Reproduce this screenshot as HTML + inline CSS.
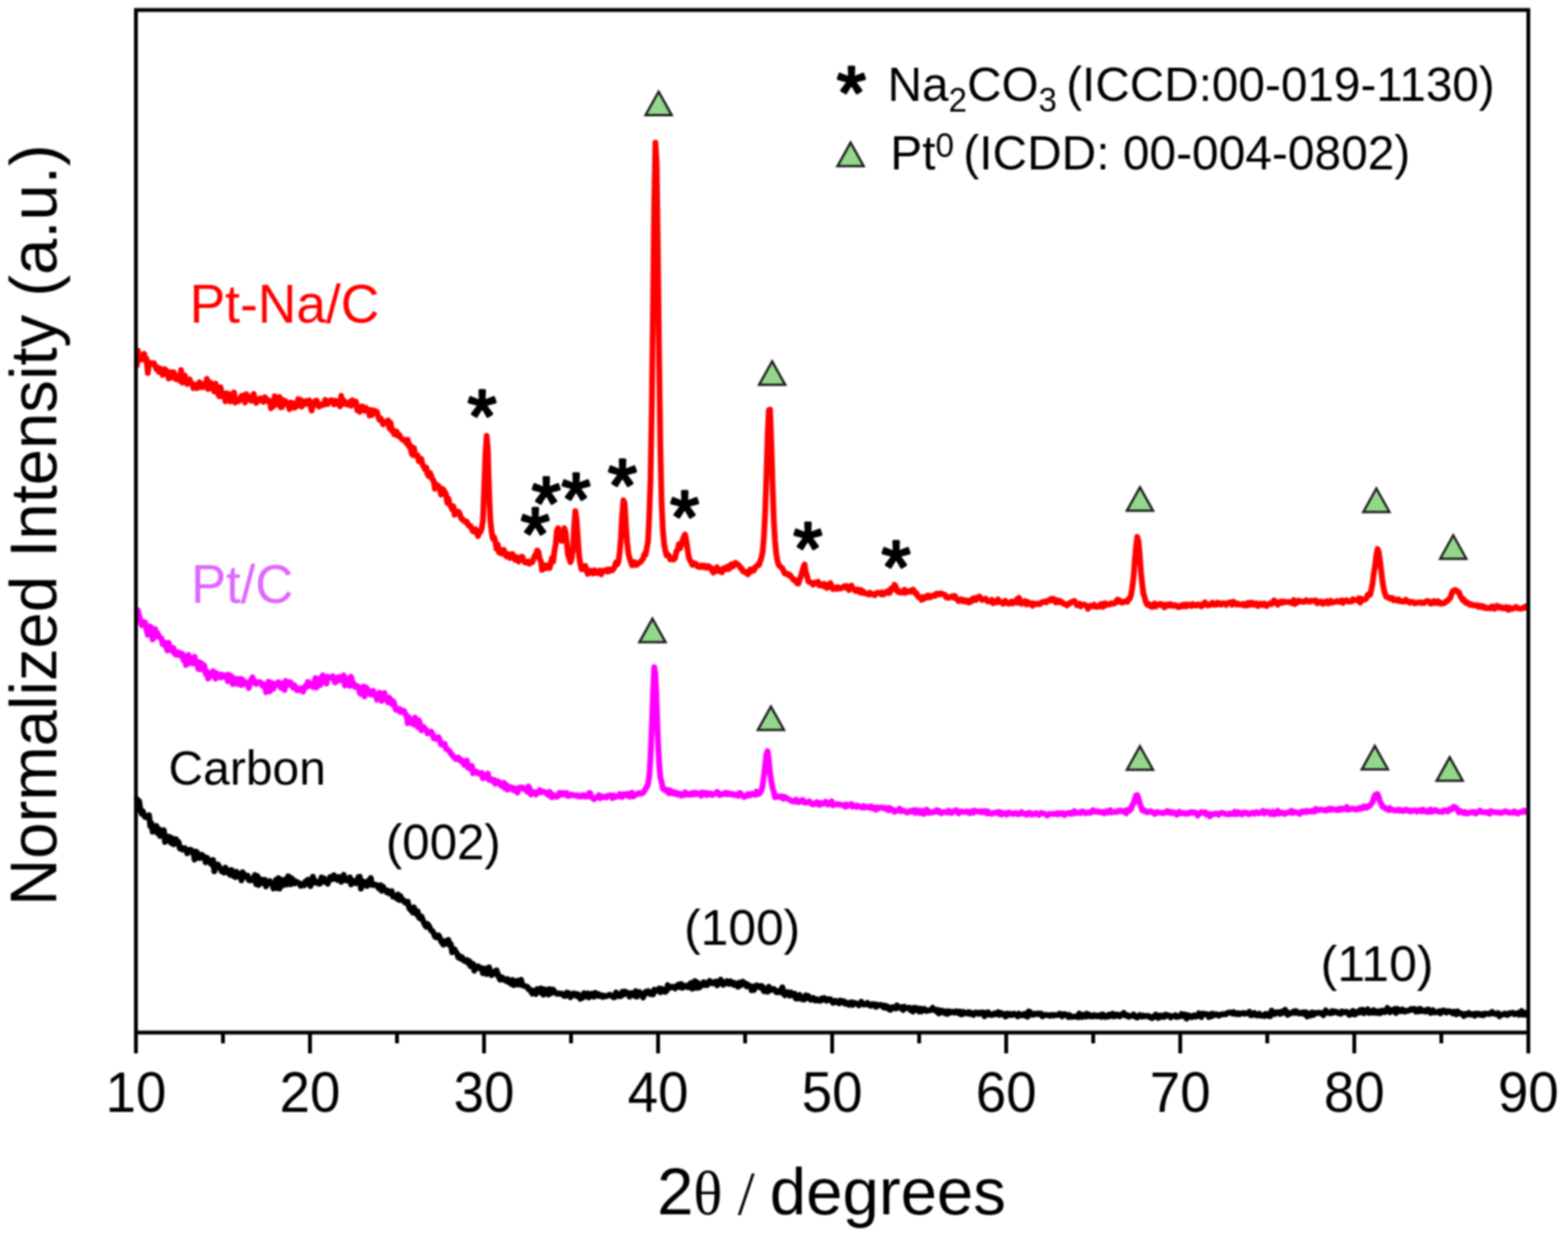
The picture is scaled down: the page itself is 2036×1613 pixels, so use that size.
<!DOCTYPE html>
<html><head><meta charset="utf-8"><style>
html,body{margin:0;padding:0;background:#fff;}
body{width:2036px;height:1613px;overflow:hidden;}
svg{display:block;filter:blur(0.9px);}
text{font-family:"Liberation Sans",Arial,sans-serif;}
.tk text{font-size:74px;fill:#000;}
.tri{fill:#92d78a;stroke:#1c1c1c;stroke-width:3;stroke-linejoin:miter;}
.ast{font-size:96.34360775891861px;fill:#000;stroke:#000;stroke-width:3.4px;stroke-linejoin:round;}
.crv{fill:none;stroke-linejoin:round;stroke-linecap:round;}
</style></head><body>
<svg width="2036" height="1613" viewBox="0 0 2036 1613">
<rect x="0" y="0" width="2036" height="1613" fill="#fff"/>
<path class="crv" stroke="#000" stroke-width="7.5" d="M177.5 1037.5 L179.1 1044.4 L180.7 1040.2 L182.3 1051.9 L183.9 1056.7 L185.5 1053.5 L187.1 1059.4 L188.7 1061.2 L190.3 1061.1 L191.9 1061.5 L193.5 1058.6 L195.1 1072.9 L196.7 1068.9 L198.3 1080.1 L199.9 1075.3 L201.5 1074.8 L203.1 1072.8 L204.7 1082.0 L206.3 1076.5 L207.9 1085.7 L209.5 1079.9 L211.1 1083.3 L212.7 1078.0 L214.3 1093.6 L215.9 1085.9 L217.5 1086.1 L219.1 1092.0 L220.7 1087.1 L222.3 1094.7 L223.9 1088.9 L225.5 1096.5 L227.1 1091.9 L228.7 1090.1 L230.3 1095.8 L231.9 1093.5 L233.5 1101.8 L235.1 1100.7 L236.7 1103.3 L238.3 1102.4 L239.9 1101.5 L241.5 1103.6 L243.1 1108.2 L244.7 1104.6 L246.3 1103.4 L247.9 1103.6 L249.5 1107.2 L251.1 1106.1 L252.7 1116.4 L254.3 1105.9 L255.9 1106.9 L257.5 1110.3 L259.1 1114.5 L260.7 1111.9 L262.3 1110.2 L263.9 1111.7 L265.5 1114.2 L267.1 1119.9 L268.7 1113.9 L270.3 1118.1 L271.9 1117.2 L273.5 1121.5 L275.1 1122.7 L276.7 1116.9 L278.3 1131.6 L279.9 1124.6 L281.5 1123.1 L283.1 1122.8 L284.7 1126.1 L286.3 1128.3 L287.9 1131.5 L289.5 1130.5 L291.1 1133.3 L292.7 1126.7 L294.3 1130.5 L295.9 1130.2 L297.5 1134.8 L299.1 1136.3 L300.7 1129.9 L302.3 1134.8 L303.9 1138.2 L305.5 1139.1 L307.1 1132.1 L308.7 1138.2 L310.3 1137.5 L311.9 1134.9 L313.5 1143.4 L315.1 1132.7 L316.7 1135.9 L318.3 1138.8 L319.9 1138.3 L321.5 1137.1 L323.1 1142.9 L324.7 1143.5 L326.3 1142.1 L327.9 1142.9 L329.5 1139.7 L331.1 1136.3 L332.7 1148.3 L334.3 1137.8 L335.9 1149.4 L337.5 1141.7 L339.1 1143.5 L340.7 1142.7 L342.3 1147.1 L343.9 1142.6 L345.5 1151.2 L347.1 1147.2 L348.7 1146.5 L350.3 1144.3 L351.9 1147.6 L353.5 1147.0 L355.1 1153.9 L356.7 1150.9 L358.3 1142.7 L359.9 1153.5 L361.5 1140.5 L363.1 1154.0 L364.7 1142.1 L366.3 1147.7 L367.9 1149.6 L369.5 1146.0 L371.1 1141.5 L372.7 1148.8 L374.3 1138.1 L375.9 1139.0 L377.5 1148.5 L379.1 1141.0 L380.7 1145.0 L382.3 1147.3 L383.9 1144.5 L385.5 1146.2 L387.1 1146.2 L388.7 1147.0 L390.3 1150.6 L391.9 1149.9 L393.5 1147.9 L395.1 1149.7 L396.7 1144.6 L398.3 1143.6 L399.9 1142.5 L401.5 1148.3 L403.1 1150.9 L404.7 1145.6 L406.3 1138.6 L407.9 1143.4 L409.5 1146.5 L411.1 1145.9 L412.7 1145.1 L414.3 1147.8 L415.9 1147.3 L417.5 1139.5 L419.1 1145.0 L420.7 1140.7 L422.3 1143.5 L423.9 1146.3 L425.5 1147.7 L427.1 1143.5 L428.7 1139.1 L430.3 1139.2 L431.9 1141.8 L433.5 1136.6 L435.1 1139.5 L436.7 1141.7 L438.3 1142.7 L439.9 1138.8 L441.5 1141.5 L443.1 1145.2 L444.7 1142.3 L446.3 1136.2 L447.9 1142.9 L449.5 1143.4 L451.1 1141.7 L452.7 1143.6 L454.3 1139.3 L455.9 1148.6 L457.5 1146.5 L459.1 1143.9 L460.7 1146.9 L462.3 1147.1 L463.9 1144.3 L465.5 1138.9 L467.1 1138.6 L468.7 1154.1 L470.3 1144.0 L471.9 1146.5 L473.5 1149.1 L475.1 1146.0 L476.7 1150.7 L478.3 1143.8 L479.9 1148.6 L481.5 1140.2 L483.1 1149.2 L484.7 1149.4 L486.3 1148.8 L487.9 1148.9 L489.5 1149.5 L491.1 1152.7 L492.7 1154.3 L494.3 1149.5 L495.9 1156.9 L497.5 1151.7 L499.1 1156.1 L500.7 1155.7 L502.3 1158.8 L503.9 1157.1 L505.5 1160.2 L507.1 1158.2 L508.7 1157.5 L510.3 1164.5 L511.9 1163.8 L513.5 1164.6 L515.1 1166.9 L516.7 1161.7 L518.3 1168.8 L519.9 1163.7 L521.5 1169.0 L523.1 1168.1 L524.7 1170.3 L526.3 1172.5 L527.9 1171.9 L529.5 1170.9 L531.1 1178.6 L532.7 1181.4 L534.3 1181.9 L535.9 1185.0 L537.5 1178.4 L539.1 1185.9 L540.7 1187.2 L542.3 1183.4 L543.9 1191.5 L545.5 1192.9 L547.1 1190.1 L548.7 1193.9 L550.3 1198.3 L551.9 1201.6 L553.5 1203.6 L555.1 1199.9 L556.7 1201.8 L558.3 1205.4 L559.9 1208.6 L561.5 1208.9 L563.1 1211.9 L564.7 1216.2 L566.3 1217.4 L567.9 1217.1 L569.5 1214.7 L571.1 1218.0 L572.7 1222.5 L574.3 1224.9 L575.9 1226.9 L577.5 1222.1 L579.1 1225.3 L580.7 1224.5 L582.3 1220.7 L583.9 1227.3 L585.5 1226.5 L587.1 1236.7 L588.7 1235.1 L590.3 1233.0 L591.9 1236.2 L593.5 1238.3 L595.1 1243.3 L596.7 1241.7 L598.3 1245.0 L599.9 1243.1 L601.5 1246.6 L603.1 1248.2 L604.7 1247.9 L606.3 1246.6 L607.9 1251.0 L609.5 1248.2 L611.1 1254.8 L612.7 1251.5 L614.3 1251.9 L615.9 1260.7 L617.5 1255.1 L619.1 1257.5 L620.7 1254.9 L622.3 1256.6 L623.9 1258.3 L625.5 1257.2 L627.1 1263.9 L628.7 1259.0 L630.3 1258.0 L631.9 1265.0 L633.5 1264.3 L635.1 1256.3 L636.7 1261.6 L638.3 1266.4 L639.9 1262.1 L641.5 1264.1 L643.1 1264.8 L644.7 1260.0 L646.3 1264.5 L647.9 1269.7 L649.5 1272.3 L651.1 1269.0 L652.7 1269.8 L654.3 1272.5 L655.9 1272.4 L657.5 1274.2 L659.1 1271.5 L660.7 1274.7 L662.3 1276.8 L663.9 1277.8 L665.5 1272.6 L667.1 1279.4 L668.7 1277.9 L670.3 1278.4 L671.9 1273.6 L673.5 1278.6 L675.1 1274.6 L676.7 1272.5 L678.3 1279.7 L679.9 1279.9 L681.5 1280.5 L683.1 1281.3 L684.7 1281.4 L686.3 1284.8 L687.9 1284.7 L689.5 1287.5 L691.1 1290.5 L692.7 1286.7 L694.3 1287.5 L695.9 1291.0 L697.5 1284.5 L699.1 1286.2 L700.7 1287.9 L702.3 1283.6 L703.9 1290.1 L705.5 1291.8 L707.1 1284.8 L708.7 1286.0 L710.3 1290.4 L711.9 1291.7 L713.5 1284.5 L715.1 1290.2 L716.7 1288.8 L718.3 1285.1 L719.9 1289.0 L721.5 1288.9 L723.1 1290.7 L724.7 1290.7 L726.3 1290.1 L727.9 1290.5 L729.5 1290.6 L731.1 1292.3 L732.7 1293.4 L734.3 1293.5 L735.9 1289.1 L737.5 1289.5 L739.1 1290.0 L740.7 1295.2 L742.3 1293.3 L743.9 1290.6 L745.5 1290.0 L747.1 1290.8 L748.7 1293.6 L750.3 1291.2 L751.9 1293.9 L753.5 1297.2 L755.1 1293.3 L756.7 1295.6 L758.3 1289.8 L759.9 1293.8 L761.5 1293.3 L763.1 1290.2 L764.7 1295.4 L766.3 1292.1 L767.9 1290.5 L769.5 1291.5 L771.1 1294.5 L772.7 1289.3 L774.3 1293.0 L775.9 1290.6 L777.5 1293.4 L779.1 1291.9 L780.7 1292.9 L782.3 1294.7 L783.9 1292.9 L785.5 1293.9 L787.1 1294.0 L788.7 1293.2 L790.3 1292.5 L791.9 1291.8 L793.5 1292.9 L795.1 1294.0 L796.7 1295.2 L798.3 1295.0 L799.9 1288.9 L801.5 1291.7 L803.1 1292.2 L804.7 1293.9 L806.3 1293.6 L807.9 1288.1 L809.5 1291.9 L811.1 1287.5 L812.7 1290.2 L814.3 1289.1 L815.9 1289.7 L817.5 1294.4 L819.1 1289.7 L820.7 1289.8 L822.3 1291.1 L823.9 1293.2 L825.5 1287.2 L827.1 1294.4 L828.7 1289.1 L830.3 1288.3 L831.9 1290.5 L833.5 1291.4 L835.1 1295.5 L836.7 1291.4 L838.3 1288.1 L839.9 1288.9 L841.5 1287.3 L843.1 1290.7 L844.7 1291.1 L846.3 1288.5 L847.9 1291.5 L849.5 1285.3 L851.1 1287.5 L852.7 1286.2 L854.3 1286.4 L855.9 1283.7 L857.5 1288.7 L859.1 1284.1 L860.7 1285.3 L862.3 1287.7 L863.9 1288.2 L865.5 1286.9 L867.1 1279.4 L868.7 1283.2 L870.3 1282.8 L871.9 1281.9 L873.5 1281.4 L875.1 1281.6 L876.7 1283.8 L878.3 1281.3 L879.9 1279.3 L881.5 1278.6 L883.1 1282.0 L884.7 1278.0 L886.3 1282.9 L887.9 1280.3 L889.5 1280.1 L891.1 1281.5 L892.7 1280.1 L894.3 1282.2 L895.9 1277.9 L897.5 1276.5 L899.1 1284.1 L900.7 1280.1 L902.3 1274.2 L903.9 1282.7 L905.5 1276.0 L907.1 1282.8 L908.7 1282.0 L910.3 1279.8 L911.9 1277.7 L913.5 1275.7 L915.1 1279.3 L916.7 1276.4 L918.3 1279.4 L919.9 1276.6 L921.5 1273.9 L923.1 1275.6 L924.7 1277.1 L926.3 1275.9 L927.9 1277.1 L929.5 1274.8 L931.1 1279.7 L932.7 1275.1 L934.3 1277.0 L935.9 1272.2 L937.5 1277.4 L939.1 1278.9 L940.7 1277.1 L942.3 1275.5 L943.9 1274.2 L945.5 1277.5 L947.1 1277.7 L948.7 1274.3 L950.3 1277.3 L951.9 1278.7 L953.5 1276.5 L955.1 1279.5 L956.7 1278.0 L958.3 1281.6 L959.9 1276.2 L961.5 1279.8 L963.1 1278.9 L964.7 1275.0 L966.3 1276.9 L967.9 1277.2 L969.5 1281.0 L971.1 1278.8 L972.7 1280.0 L974.3 1280.8 L975.9 1286.1 L977.5 1281.1 L979.1 1285.8 L980.7 1282.0 L982.3 1279.6 L983.9 1281.3 L985.5 1280.6 L987.1 1282.4 L988.7 1280.4 L990.3 1281.6 L991.9 1287.3 L993.5 1284.3 L995.1 1284.8 L996.7 1288.0 L998.3 1281.5 L999.9 1286.1 L1001.5 1284.3 L1003.1 1285.3 L1004.7 1284.3 L1006.3 1286.1 L1007.9 1288.5 L1009.5 1288.7 L1011.1 1287.2 L1012.7 1288.6 L1014.3 1285.1 L1015.9 1282.3 L1017.5 1290.3 L1019.1 1292.6 L1020.7 1290.1 L1022.3 1288.6 L1023.9 1290.3 L1025.5 1293.0 L1027.1 1289.0 L1028.7 1291.8 L1030.3 1293.2 L1031.9 1290.5 L1033.5 1296.8 L1035.1 1294.8 L1036.7 1296.8 L1038.3 1292.0 L1039.9 1294.8 L1041.5 1297.7 L1043.1 1296.1 L1044.7 1298.0 L1046.3 1292.7 L1047.9 1296.4 L1049.5 1293.3 L1051.1 1296.6 L1052.7 1298.4 L1054.3 1297.8 L1055.9 1295.9 L1057.5 1298.8 L1059.1 1299.4 L1060.7 1297.8 L1062.3 1299.3 L1063.9 1299.7 L1065.5 1299.7 L1067.1 1296.7 L1068.7 1298.2 L1070.3 1296.2 L1071.9 1297.3 L1073.5 1299.7 L1075.1 1297.8 L1076.7 1297.6 L1078.3 1297.7 L1079.9 1300.1 L1081.5 1302.4 L1083.1 1301.5 L1084.7 1299.6 L1086.3 1301.7 L1087.9 1302.1 L1089.5 1303.1 L1091.1 1299.4 L1092.7 1301.9 L1094.3 1300.2 L1095.9 1300.2 L1097.5 1303.7 L1099.1 1302.8 L1100.7 1302.3 L1102.3 1305.0 L1103.9 1303.3 L1105.5 1301.8 L1107.1 1305.2 L1108.7 1302.2 L1110.3 1302.4 L1111.9 1303.3 L1113.5 1303.8 L1115.1 1305.7 L1116.7 1303.5 L1118.3 1301.0 L1119.9 1303.2 L1121.5 1304.8 L1123.1 1304.1 L1124.7 1304.2 L1126.3 1302.4 L1127.9 1304.1 L1129.5 1305.9 L1131.1 1306.2 L1132.7 1304.0 L1134.3 1304.4 L1135.9 1304.2 L1137.5 1307.7 L1139.1 1304.9 L1140.7 1305.9 L1142.3 1305.1 L1143.9 1305.1 L1145.5 1306.5 L1147.1 1308.3 L1148.7 1305.9 L1150.3 1308.9 L1151.9 1306.9 L1153.5 1308.3 L1155.1 1311.4 L1156.7 1311.2 L1158.3 1308.1 L1159.9 1308.1 L1161.5 1308.0 L1163.1 1309.8 L1164.7 1305.7 L1166.3 1307.9 L1167.9 1309.0 L1169.5 1308.1 L1171.1 1307.8 L1172.7 1311.8 L1174.3 1307.3 L1175.9 1309.2 L1177.5 1309.1 L1179.1 1309.4 L1180.7 1308.6 L1182.3 1311.8 L1183.9 1310.5 L1185.5 1313.7 L1187.1 1308.7 L1188.7 1311.4 L1190.3 1309.2 L1191.9 1311.9 L1193.5 1313.6 L1195.1 1309.9 L1196.7 1313.5 L1198.3 1310.5 L1199.9 1310.0 L1201.5 1312.3 L1203.1 1313.0 L1204.7 1312.0 L1206.3 1312.3 L1207.9 1311.9 L1209.5 1311.3 L1211.1 1308.8 L1212.7 1311.8 L1214.3 1311.5 L1215.9 1313.6 L1217.5 1311.5 L1219.1 1316.2 L1220.7 1314.1 L1222.3 1312.5 L1223.9 1314.5 L1225.5 1313.2 L1227.1 1316.0 L1228.7 1313.6 L1230.3 1316.8 L1231.9 1313.1 L1233.5 1315.2 L1235.1 1315.0 L1236.7 1313.8 L1238.3 1314.7 L1239.9 1315.2 L1241.5 1313.3 L1243.1 1313.8 L1244.7 1315.8 L1246.3 1313.7 L1247.9 1317.4 L1249.5 1317.3 L1251.1 1314.1 L1252.7 1315.5 L1254.3 1315.9 L1255.9 1316.3 L1257.5 1314.5 L1259.1 1316.7 L1260.7 1315.0 L1262.3 1315.8 L1263.9 1318.1 L1265.5 1316.1 L1267.1 1314.8 L1268.7 1315.4 L1270.3 1316.8 L1271.9 1315.2 L1273.5 1314.9 L1275.1 1316.6 L1276.7 1315.0 L1278.3 1319.8 L1279.9 1315.7 L1281.5 1317.8 L1283.1 1314.7 L1284.7 1316.5 L1286.3 1318.3 L1287.9 1317.8 L1289.5 1318.0 L1291.1 1316.1 L1292.7 1317.1 L1294.3 1316.4 L1295.9 1314.5 L1297.5 1318.2 L1299.1 1315.3 L1300.7 1315.9 L1302.3 1317.5 L1303.9 1317.2 L1305.5 1320.2 L1307.1 1316.3 L1308.7 1318.7 L1310.3 1316.5 L1311.9 1316.8 L1313.5 1318.5 L1315.1 1318.0 L1316.7 1316.4 L1318.3 1317.1 L1319.9 1317.7 L1321.5 1320.0 L1323.1 1316.5 L1324.7 1318.1 L1326.3 1318.7 L1327.9 1318.0 L1329.5 1317.0 L1331.1 1319.0 L1332.7 1316.2 L1334.3 1320.4 L1335.9 1313.5 L1337.5 1314.3 L1339.1 1317.4 L1340.7 1318.0 L1342.3 1317.7 L1343.9 1316.2 L1345.5 1316.9 L1347.1 1317.3 L1348.7 1316.1 L1350.3 1317.1 L1351.9 1316.4 L1353.5 1319.8 L1355.1 1319.0 L1356.7 1317.9 L1358.3 1318.2 L1359.9 1318.2 L1361.5 1318.5 L1363.1 1319.3 L1364.7 1318.3 L1366.3 1318.0 L1367.9 1319.1 L1369.5 1318.2 L1371.1 1318.3 L1372.7 1318.3 L1374.3 1317.9 L1375.9 1316.5 L1377.5 1317.8 L1379.1 1319.9 L1380.7 1316.9 L1382.3 1317.0 L1383.9 1317.7 L1385.5 1317.9 L1387.1 1320.7 L1388.7 1318.3 L1390.3 1320.7 L1391.9 1320.3 L1393.5 1320.4 L1395.1 1320.3 L1396.7 1320.0 L1398.3 1320.2 L1399.9 1321.1 L1401.5 1316.2 L1403.1 1319.7 L1404.7 1320.7 L1406.3 1318.0 L1407.9 1318.9 L1409.5 1320.3 L1411.1 1316.5 L1412.7 1319.6 L1414.3 1317.7 L1415.9 1319.8 L1417.5 1320.1 L1419.1 1320.0 L1420.7 1318.2 L1422.3 1319.6 L1423.9 1318.7 L1425.5 1320.0 L1427.1 1318.9 L1428.7 1318.2 L1430.3 1320.7 L1431.9 1317.4 L1433.5 1318.4 L1435.1 1320.7 L1436.7 1319.6 L1438.3 1320.3 L1439.9 1317.6 L1441.5 1319.4 L1443.1 1317.8 L1444.7 1316.5 L1446.3 1320.0 L1447.9 1317.6 L1449.5 1319.2 L1451.1 1317.7 L1452.7 1319.8 L1454.3 1319.9 L1455.9 1317.6 L1457.5 1317.7 L1459.1 1315.4 L1460.7 1318.6 L1462.3 1319.0 L1463.9 1318.4 L1465.5 1320.5 L1467.1 1319.5 L1468.7 1319.6 L1470.3 1318.8 L1471.9 1317.5 L1473.5 1319.8 L1475.1 1321.0 L1476.7 1321.6 L1478.3 1320.1 L1479.9 1318.1 L1481.5 1319.6 L1483.1 1320.4 L1484.7 1318.8 L1486.3 1319.9 L1487.9 1319.6 L1489.5 1319.5 L1491.1 1319.2 L1492.7 1321.1 L1494.3 1321.3 L1495.9 1322.3 L1497.5 1320.0 L1499.1 1320.4 L1500.7 1317.7 L1502.3 1320.5 L1503.9 1322.0 L1505.5 1318.8 L1507.1 1320.6 L1508.7 1319.0 L1510.3 1320.5 L1511.9 1320.7 L1513.5 1317.6 L1515.1 1318.3 L1516.7 1318.5 L1518.3 1319.2 L1519.9 1321.4 L1521.5 1319.6 L1523.1 1319.7 L1524.7 1319.7 L1526.3 1318.4 L1527.9 1320.8 L1529.5 1319.9 L1531.1 1320.2 L1532.7 1319.3 L1534.3 1316.8 L1535.9 1319.5 L1537.5 1317.8 L1539.1 1317.5 L1540.7 1322.8 L1542.3 1320.4 L1543.9 1318.7 L1545.5 1320.6 L1547.1 1321.0 L1548.7 1319.7 L1550.3 1318.7 L1551.9 1320.5 L1553.5 1319.9 L1555.1 1319.5 L1556.7 1315.9 L1558.3 1318.7 L1559.9 1320.9 L1561.5 1316.3 L1563.1 1317.2 L1564.7 1316.7 L1566.3 1317.2 L1567.9 1317.7 L1569.5 1320.8 L1571.1 1317.4 L1572.7 1320.1 L1574.3 1316.4 L1575.9 1318.6 L1577.5 1317.5 L1579.1 1316.9 L1580.7 1317.8 L1582.3 1319.2 L1583.9 1317.7 L1585.5 1318.0 L1587.1 1316.9 L1588.7 1317.3 L1590.3 1316.9 L1591.9 1317.3 L1593.5 1315.8 L1595.1 1314.9 L1596.7 1315.0 L1598.3 1314.9 L1599.9 1316.3 L1601.5 1314.4 L1603.1 1316.6 L1604.7 1315.9 L1606.3 1317.3 L1607.9 1315.9 L1609.5 1317.2 L1611.1 1316.3 L1612.7 1316.1 L1614.3 1315.5 L1615.9 1316.7 L1617.5 1316.3 L1619.1 1315.5 L1620.7 1315.8 L1622.3 1313.9 L1623.9 1318.4 L1625.5 1318.5 L1627.1 1316.3 L1628.7 1315.4 L1630.3 1318.2 L1631.9 1318.9 L1633.5 1317.4 L1635.1 1316.4 L1636.7 1319.1 L1638.3 1318.5 L1639.9 1318.5 L1641.5 1319.6 L1643.1 1316.7 L1644.7 1316.8 L1646.3 1319.2 L1647.9 1317.5 L1649.5 1319.7 L1651.1 1312.5 L1652.7 1314.0 L1654.3 1317.0 L1655.9 1316.8 L1657.5 1314.5 L1659.1 1314.8 L1660.7 1314.8 L1662.3 1316.8 L1663.9 1313.8 L1665.5 1315.5 L1667.1 1314.5 L1668.7 1311.3 L1670.3 1315.8 L1671.9 1318.0 L1673.5 1315.2 L1675.1 1316.6 L1676.7 1315.7 L1678.3 1315.4 L1679.9 1313.5 L1681.5 1315.6 L1683.1 1313.1 L1684.7 1315.1 L1686.3 1316.2 L1687.9 1316.3 L1689.5 1315.0 L1691.1 1316.0 L1692.7 1314.8 L1694.3 1317.4 L1695.9 1314.8 L1697.5 1320.2 L1699.1 1317.6 L1700.7 1316.3 L1702.3 1318.9 L1703.9 1315.0 L1705.5 1318.0 L1707.1 1315.4 L1708.7 1316.3 L1710.3 1315.4 L1711.9 1315.1 L1713.5 1315.3 L1715.1 1316.3 L1716.7 1315.6 L1718.3 1318.5 L1719.9 1316.0 L1721.5 1312.2 L1723.1 1314.8 L1724.7 1315.3 L1726.3 1315.9 L1727.9 1316.1 L1729.5 1313.3 L1731.1 1315.1 L1732.7 1313.5 L1734.3 1314.6 L1735.9 1314.0 L1737.5 1316.1 L1739.1 1315.9 L1740.7 1316.7 L1742.3 1313.6 L1743.9 1314.1 L1745.5 1315.0 L1747.1 1314.2 L1748.7 1314.1 L1750.3 1315.7 L1751.9 1318.0 L1753.5 1315.3 L1755.1 1317.0 L1756.7 1312.8 L1758.3 1317.4 L1759.9 1317.5 L1761.5 1314.6 L1763.1 1313.6 L1764.7 1315.0 L1766.3 1311.7 L1767.9 1314.3 L1769.5 1311.4 L1771.1 1315.9 L1772.7 1313.7 L1774.3 1312.7 L1775.9 1310.8 L1777.5 1315.7 L1779.1 1313.8 L1780.7 1313.0 L1782.3 1315.4 L1783.9 1311.9 L1785.5 1315.2 L1787.1 1315.6 L1788.7 1313.4 L1790.3 1315.4 L1791.9 1316.0 L1793.5 1312.6 L1795.1 1312.6 L1796.7 1314.6 L1798.3 1314.5 L1799.9 1312.3 L1801.5 1309.0 L1803.1 1311.1 L1804.7 1314.7 L1806.3 1312.3 L1807.9 1311.6 L1809.5 1313.3 L1811.1 1310.3 L1812.7 1315.6 L1814.3 1310.0 L1815.9 1312.3 L1817.5 1313.1 L1819.1 1313.4 L1820.7 1311.0 L1822.3 1312.0 L1823.9 1313.8 L1825.5 1312.5 L1827.1 1313.1 L1828.7 1312.3 L1830.3 1312.3 L1831.9 1310.7 L1833.5 1310.2 L1835.1 1311.4 L1836.7 1310.3 L1838.3 1313.8 L1839.9 1312.9 L1841.5 1313.7 L1843.1 1310.1 L1844.7 1310.4 L1846.3 1313.1 L1847.9 1312.6 L1849.5 1312.7 L1851.1 1313.8 L1852.7 1311.2 L1854.3 1311.0 L1855.9 1311.6 L1857.5 1315.6 L1859.1 1312.9 L1860.7 1312.0 L1862.3 1315.0 L1863.9 1314.4 L1865.5 1314.5 L1867.1 1314.3 L1868.7 1313.3 L1870.3 1316.0 L1871.9 1314.9 L1873.5 1312.3 L1875.1 1312.4 L1876.7 1313.1 L1878.3 1315.1 L1879.9 1313.2 L1881.5 1313.7 L1883.1 1313.5 L1884.7 1314.4 L1886.3 1316.1 L1887.9 1314.0 L1889.5 1314.9 L1891.1 1317.4 L1892.7 1313.4 L1894.3 1316.1 L1895.9 1316.2 L1897.5 1316.1 L1899.1 1317.7 L1900.7 1319.4 L1902.3 1316.7 L1903.9 1316.7 L1905.5 1317.7 L1907.1 1315.4 L1908.7 1316.7 L1910.3 1317.7 L1911.9 1317.8 L1913.5 1316.7 L1915.1 1319.2 L1916.7 1316.3 L1918.3 1316.8 L1919.9 1316.3 L1921.5 1317.9 L1923.1 1318.3 L1924.7 1316.9 L1926.3 1318.4 L1927.9 1316.2 L1929.5 1316.7 L1931.1 1316.8 L1932.7 1316.5 L1934.3 1316.9 L1935.9 1315.4 L1937.5 1314.2 L1939.1 1316.3 L1940.7 1316.7 L1942.3 1317.0 L1943.9 1316.0 L1945.5 1315.7 L1947.1 1320.0 L1948.7 1318.3 L1950.3 1317.7 L1951.9 1317.4 L1953.5 1316.2 L1955.1 1316.7 L1956.7 1318.2 L1958.3 1317.9 L1959.9 1315.7 L1961.5 1315.7 L1963.1 1315.5 L1964.7 1315.2 L1966.3 1317.3 L1967.9 1316.9 L1969.5 1316.5 L1971.1 1315.4 L1972.7 1317.8 L1974.3 1316.2 L1975.9 1312.9 L1977.5 1317.9 L1979.1 1316.6 L1980.7 1315.5 L1982.3 1318.1"/>
<path class="crv" stroke="#ff00ff" stroke-width="7.5" d="M177.5 793.0 L179.1 792.7 L180.7 800.4 L182.3 806.0 L183.9 811.8 L185.5 808.9 L187.1 807.8 L188.7 808.9 L190.3 818.5 L191.9 824.4 L193.5 819.3 L195.1 813.6 L196.7 816.5 L198.3 830.5 L199.9 825.1 L201.5 817.0 L203.1 826.3 L204.7 822.3 L206.3 826.2 L207.9 828.3 L209.5 828.8 L211.1 836.6 L212.7 835.4 L214.3 834.7 L215.9 841.2 L217.5 844.9 L219.1 834.7 L220.7 842.7 L222.3 840.7 L223.9 845.7 L225.5 841.8 L227.1 849.2 L228.7 850.4 L230.3 849.9 L231.9 847.3 L233.5 851.3 L235.1 849.1 L236.7 849.1 L238.3 857.4 L239.9 852.3 L241.5 863.6 L243.1 862.2 L244.7 850.5 L246.3 861.3 L247.9 855.7 L249.5 861.3 L251.1 861.6 L252.7 852.9 L254.3 861.5 L255.9 862.2 L257.5 868.5 L259.1 859.9 L260.7 869.4 L262.3 862.0 L263.9 866.2 L265.5 864.6 L267.1 875.3 L268.7 872.1 L270.3 881.3 L271.9 874.5 L273.5 876.3 L275.1 877.2 L276.7 871.7 L278.3 874.8 L279.9 881.5 L281.5 874.4 L283.1 877.3 L284.7 876.7 L286.3 879.8 L287.9 876.0 L289.5 877.3 L291.1 879.5 L292.7 879.6 L294.3 876.3 L295.9 884.7 L297.5 876.4 L299.1 877.8 L300.7 878.3 L302.3 888.5 L303.9 883.6 L305.5 881.6 L307.1 881.4 L308.7 888.3 L310.3 882.3 L311.9 881.6 L313.5 889.8 L315.1 882.6 L316.7 886.6 L318.3 888.1 L319.9 886.4 L321.5 888.0 L323.1 893.5 L324.7 885.6 L326.3 882.3 L327.9 879.7 L329.5 886.3 L331.1 885.7 L332.7 888.4 L334.3 885.8 L335.9 886.2 L337.5 885.8 L339.1 887.2 L340.7 890.5 L342.3 888.9 L343.9 891.3 L345.5 898.9 L347.1 893.6 L348.7 885.2 L350.3 898.1 L351.9 892.4 L353.5 887.2 L355.1 894.4 L356.7 890.7 L358.3 888.1 L359.9 887.7 L361.5 886.0 L363.1 889.7 L364.7 893.1 L366.3 887.3 L367.9 890.4 L369.5 896.2 L371.1 884.4 L372.7 890.3 L374.3 888.4 L375.9 885.8 L377.5 886.3 L379.1 890.7 L380.7 893.1 L382.3 890.0 L383.9 893.0 L385.5 896.3 L387.1 894.6 L388.7 896.3 L390.3 894.3 L391.9 893.8 L393.5 898.3 L395.1 893.2 L396.7 890.8 L398.3 892.3 L399.9 885.6 L401.5 887.1 L403.1 890.7 L404.7 889.4 L406.3 892.2 L407.9 886.2 L409.5 880.6 L411.1 892.9 L412.7 889.4 L414.3 881.2 L415.9 889.7 L417.5 884.3 L419.1 877.0 L420.7 881.5 L422.3 880.7 L423.9 887.8 L425.5 878.8 L427.1 880.5 L428.7 880.3 L430.3 880.0 L431.9 878.3 L433.5 882.8 L435.1 886.3 L436.7 885.0 L438.3 879.8 L439.9 879.1 L441.5 883.6 L443.1 880.5 L444.7 880.4 L446.3 877.1 L447.9 890.4 L449.5 887.3 L451.1 881.3 L452.7 888.6 L454.3 890.8 L455.9 878.7 L457.5 886.0 L459.1 887.5 L460.7 892.1 L462.3 890.5 L463.9 891.1 L465.5 892.6 L467.1 899.8 L468.7 901.3 L470.3 892.6 L471.9 891.7 L473.5 904.5 L475.1 892.5 L476.7 894.5 L478.3 897.2 L479.9 899.4 L481.5 902.0 L483.1 900.6 L484.7 897.2 L486.3 902.7 L487.9 902.6 L489.5 908.8 L491.1 903.3 L492.7 899.6 L494.3 901.3 L495.9 910.3 L497.5 904.4 L499.1 899.8 L500.7 905.4 L502.3 907.8 L503.9 912.1 L505.5 906.0 L507.1 912.6 L508.7 914.2 L510.3 910.5 L511.9 913.4 L513.5 921.0 L515.1 922.1 L516.7 920.8 L518.3 920.6 L519.9 924.7 L521.5 922.2 L523.1 924.0 L524.7 923.3 L526.3 927.6 L527.9 928.9 L529.5 939.4 L531.1 931.5 L532.7 937.4 L534.3 938.9 L535.9 935.5 L537.5 940.9 L539.1 931.9 L540.7 940.3 L542.3 944.1 L543.9 935.5 L545.5 940.5 L547.1 948.6 L548.7 945.8 L550.3 944.3 L551.9 947.5 L553.5 947.8 L555.1 952.4 L556.7 952.3 L558.3 950.7 L559.9 950.1 L561.5 953.3 L563.1 958.8 L564.7 957.3 L566.3 959.7 L567.9 959.0 L569.5 957.5 L571.1 961.0 L572.7 967.0 L574.3 967.3 L575.9 966.2 L577.5 966.0 L579.1 972.7 L580.7 972.9 L582.3 974.4 L583.9 975.8 L585.5 979.0 L587.1 980.0 L588.7 982.8 L590.3 983.7 L591.9 986.0 L593.5 985.7 L595.1 983.7 L596.7 985.8 L598.3 988.5 L599.9 987.4 L601.5 990.9 L603.1 993.6 L604.7 989.4 L606.3 987.9 L607.9 997.2 L609.5 995.4 L611.1 998.7 L612.7 994.7 L614.3 1004.3 L615.9 1002.9 L617.5 1001.8 L619.1 1002.3 L620.7 1004.5 L622.3 1004.7 L623.9 1005.3 L625.5 1003.8 L627.1 1010.8 L628.7 1008.1 L630.3 1009.2 L631.9 1010.0 L633.5 1004.5 L635.1 1012.8 L636.7 1011.5 L638.3 1012.6 L639.9 1014.6 L641.5 1012.6 L643.1 1017.8 L644.7 1014.5 L646.3 1014.7 L647.9 1015.4 L649.5 1018.6 L651.1 1020.8 L652.7 1018.2 L654.3 1016.8 L655.9 1023.8 L657.5 1019.3 L659.1 1025.5 L660.7 1023.0 L662.3 1021.9 L663.9 1022.3 L665.5 1025.2 L667.1 1026.4 L668.7 1023.8 L670.3 1026.6 L671.9 1029.5 L673.5 1024.4 L675.1 1022.5 L676.7 1023.1 L678.3 1022.8 L679.9 1024.9 L681.5 1025.0 L683.1 1023.9 L684.7 1028.3 L686.3 1021.3 L687.9 1024.3 L689.5 1031.9 L691.1 1029.8 L692.7 1028.7 L694.3 1028.8 L695.9 1031.9 L697.5 1029.4 L699.1 1028.7 L700.7 1026.1 L702.3 1029.0 L703.9 1027.9 L705.5 1028.2 L707.1 1028.5 L708.7 1030.2 L710.3 1029.9 L711.9 1032.7 L713.5 1028.3 L715.1 1031.0 L716.7 1035.5 L718.3 1032.0 L719.9 1034.5 L721.5 1034.5 L723.1 1034.9 L724.7 1033.8 L726.3 1029.6 L727.9 1031.9 L729.5 1031.9 L731.1 1029.7 L732.7 1032.0 L734.3 1030.6 L735.9 1029.9 L737.5 1033.8 L739.1 1033.4 L740.7 1032.2 L742.3 1031.8 L743.9 1032.6 L745.5 1032.9 L747.1 1032.9 L748.7 1033.6 L750.3 1032.8 L751.9 1034.4 L753.5 1034.6 L755.1 1034.4 L756.7 1032.5 L758.3 1032.7 L759.9 1034.7 L761.5 1033.7 L763.1 1034.1 L764.7 1029.9 L766.3 1029.8 L767.9 1035.5 L769.5 1035.8 L771.1 1037.9 L772.7 1036.8 L774.3 1035.9 L775.9 1035.5 L777.5 1032.8 L779.1 1036.7 L780.7 1033.9 L782.3 1035.6 L783.9 1034.9 L785.5 1034.9 L787.1 1035.8 L788.7 1033.4 L790.3 1033.5 L791.9 1032.7 L793.5 1033.3 L795.1 1036.5 L796.7 1033.0 L798.3 1035.3 L799.9 1034.5 L801.5 1034.2 L803.1 1034.2 L804.7 1031.2 L806.3 1033.3 L807.9 1035.2 L809.5 1031.5 L811.1 1032.5 L812.7 1031.4 L814.3 1032.9 L815.9 1030.6 L817.5 1034.7 L819.1 1031.4 L820.7 1029.4 L822.3 1034.4 L823.9 1032.9 L825.5 1032.0 L827.1 1031.8 L828.7 1030.1 L830.3 1030.0 L831.9 1030.9 L833.5 1030.5 L835.1 1029.6 L836.7 1027.2 L838.3 1024.4 L839.9 1021.8 L841.5 1018.3 L843.1 1007.4 L844.7 982.5 L846.3 945.6 L847.9 901.5 L849.5 866.4 L851.1 875.3 L852.7 915.1 L854.3 960.8 L855.9 991.6 L857.5 1010.0 L859.1 1015.7 L860.7 1024.3 L862.3 1025.1 L863.9 1026.8 L865.5 1025.4 L867.1 1027.8 L868.7 1030.4 L870.3 1026.5 L871.9 1029.6 L873.5 1030.5 L875.1 1028.6 L876.7 1031.1 L878.3 1029.6 L879.9 1032.0 L881.5 1031.1 L883.1 1030.8 L884.7 1033.4 L886.3 1031.8 L887.9 1032.6 L889.5 1029.0 L891.1 1029.8 L892.7 1032.1 L894.3 1032.2 L895.9 1030.9 L897.5 1032.2 L899.1 1029.6 L900.7 1031.4 L902.3 1029.5 L903.9 1031.6 L905.5 1030.3 L907.1 1030.0 L908.7 1031.0 L910.3 1033.4 L911.9 1029.2 L913.5 1029.7 L915.1 1031.9 L916.7 1029.7 L918.3 1032.7 L919.9 1030.4 L921.5 1030.2 L923.1 1030.6 L924.7 1032.6 L926.3 1031.2 L927.9 1031.1 L929.5 1030.8 L931.1 1028.4 L932.7 1029.4 L934.3 1032.7 L935.9 1031.8 L937.5 1031.4 L939.1 1031.6 L940.7 1030.0 L942.3 1031.3 L943.9 1029.7 L945.5 1031.6 L947.1 1030.3 L948.7 1031.0 L950.3 1032.0 L951.9 1031.0 L953.5 1032.4 L955.1 1032.3 L956.7 1032.2 L958.3 1033.6 L959.9 1030.0 L961.5 1030.0 L963.1 1033.1 L964.7 1033.6 L966.3 1035.1 L967.9 1033.4 L969.5 1033.5 L971.1 1031.2 L972.7 1033.3 L974.3 1033.1 L975.9 1030.8 L977.5 1030.9 L979.1 1031.8 L980.7 1032.2 L982.3 1027.9 L983.9 1031.5 L985.5 1031.1 L987.1 1029.1 L988.7 1026.5 L990.3 1020.2 L991.9 1007.2 L993.5 994.2 L995.1 979.6 L996.7 975.4 L998.3 986.9 L999.9 1004.2 L1001.5 1014.3 L1003.1 1023.2 L1004.7 1028.3 L1006.3 1035.4 L1007.9 1033.9 L1009.5 1034.9 L1011.1 1034.5 L1012.7 1034.8 L1014.3 1033.9 L1015.9 1036.9 L1017.5 1037.3 L1019.1 1034.9 L1020.7 1036.3 L1022.3 1036.9 L1023.9 1038.1 L1025.5 1038.7 L1027.1 1040.0 L1028.7 1040.6 L1030.3 1040.6 L1031.9 1041.2 L1033.5 1038.5 L1035.1 1039.6 L1036.7 1042.0 L1038.3 1041.2 L1039.9 1041.1 L1041.5 1038.9 L1043.1 1039.3 L1044.7 1042.6 L1046.3 1042.4 L1047.9 1041.9 L1049.5 1041.9 L1051.1 1040.6 L1052.7 1043.2 L1054.3 1044.1 L1055.9 1044.9 L1057.5 1043.1 L1059.1 1042.8 L1060.7 1041.8 L1062.3 1044.6 L1063.9 1045.3 L1065.5 1042.7 L1067.1 1043.9 L1068.7 1043.8 L1070.3 1043.2 L1071.9 1041.1 L1073.5 1043.7 L1075.1 1044.9 L1076.7 1042.7 L1078.3 1043.4 L1079.9 1040.8 L1081.5 1046.0 L1083.1 1045.2 L1084.7 1044.8 L1086.3 1044.5 L1087.9 1044.2 L1089.5 1045.0 L1091.1 1044.9 L1092.7 1045.1 L1094.3 1045.5 L1095.9 1045.9 L1097.5 1047.7 L1099.1 1044.6 L1100.7 1046.7 L1102.3 1045.9 L1103.9 1045.5 L1105.5 1044.3 L1107.1 1047.7 L1108.7 1046.1 L1110.3 1046.4 L1111.9 1047.8 L1113.5 1046.2 L1115.1 1047.5 L1116.7 1047.4 L1118.3 1048.5 L1119.9 1048.8 L1121.5 1046.8 L1123.1 1048.8 L1124.7 1047.9 L1126.3 1048.2 L1127.9 1048.0 L1129.5 1049.3 L1131.1 1047.3 L1132.7 1049.1 L1134.3 1050.3 L1135.9 1048.8 L1137.5 1051.5 L1139.1 1048.6 L1140.7 1049.7 L1142.3 1049.0 L1143.9 1049.0 L1145.5 1048.6 L1147.1 1049.3 L1148.7 1050.0 L1150.3 1049.3 L1151.9 1051.4 L1153.5 1052.3 L1155.1 1049.2 L1156.7 1052.0 L1158.3 1051.5 L1159.9 1051.8 L1161.5 1054.4 L1163.1 1053.3 L1164.7 1052.6 L1166.3 1052.6 L1167.9 1050.2 L1169.5 1053.6 L1171.1 1052.1 L1172.7 1053.2 L1174.3 1053.2 L1175.9 1054.1 L1177.5 1055.3 L1179.1 1054.2 L1180.7 1054.5 L1182.3 1052.9 L1183.9 1053.7 L1185.5 1054.1 L1187.1 1051.9 L1188.7 1055.8 L1190.3 1052.9 L1191.9 1052.4 L1193.5 1055.6 L1195.1 1056.1 L1196.7 1053.0 L1198.3 1053.1 L1199.9 1057.1 L1201.5 1053.8 L1203.1 1051.5 L1204.7 1053.0 L1206.3 1055.9 L1207.9 1054.5 L1209.5 1054.7 L1211.1 1055.2 L1212.7 1054.7 L1214.3 1053.6 L1215.9 1052.3 L1217.5 1054.6 L1219.1 1053.0 L1220.7 1054.2 L1222.3 1056.2 L1223.9 1055.0 L1225.5 1054.5 L1227.1 1054.5 L1228.7 1055.1 L1230.3 1055.3 L1231.9 1052.8 L1233.5 1054.4 L1235.1 1056.0 L1236.7 1055.0 L1238.3 1053.4 L1239.9 1053.6 L1241.5 1052.2 L1243.1 1053.7 L1244.7 1056.4 L1246.3 1054.6 L1247.9 1053.8 L1249.5 1054.1 L1251.1 1054.6 L1252.7 1054.6 L1254.3 1054.3 L1255.9 1053.7 L1257.5 1055.2 L1259.1 1056.1 L1260.7 1053.8 L1262.3 1053.7 L1263.9 1055.5 L1265.5 1052.6 L1267.1 1053.5 L1268.7 1053.7 L1270.3 1054.4 L1271.9 1054.0 L1273.5 1053.6 L1275.1 1055.1 L1276.7 1053.7 L1278.3 1053.4 L1279.9 1053.3 L1281.5 1056.5 L1283.1 1054.0 L1284.7 1056.4 L1286.3 1056.7 L1287.9 1056.9 L1289.5 1055.8 L1291.1 1055.4 L1292.7 1056.0 L1294.3 1055.2 L1295.9 1054.4 L1297.5 1057.1 L1299.1 1054.9 L1300.7 1057.9 L1302.3 1056.6 L1303.9 1055.7 L1305.5 1056.9 L1307.1 1057.9 L1308.7 1055.2 L1310.3 1055.7 L1311.9 1055.6 L1313.5 1056.9 L1315.1 1057.2 L1316.7 1056.7 L1318.3 1055.8 L1319.9 1055.9 L1321.5 1057.6 L1323.1 1057.4 L1324.7 1056.3 L1326.3 1054.7 L1327.9 1056.8 L1329.5 1056.5 L1331.1 1056.5 L1332.7 1058.2 L1334.3 1057.3 L1335.9 1055.4 L1337.5 1055.5 L1339.1 1058.1 L1340.7 1056.9 L1342.3 1057.7 L1343.9 1056.6 L1345.5 1055.7 L1347.1 1057.1 L1348.7 1058.5 L1350.3 1057.2 L1351.9 1055.6 L1353.5 1056.5 L1355.1 1056.4 L1356.7 1057.1 L1358.3 1058.1 L1359.9 1059.1 L1361.5 1057.3 L1363.1 1056.7 L1364.7 1057.3 L1366.3 1057.2 L1367.9 1056.8 L1369.5 1057.2 L1371.1 1057.2 L1372.7 1055.9 L1374.3 1057.6 L1375.9 1056.6 L1377.5 1055.8 L1379.1 1057.3 L1380.7 1056.2 L1382.3 1058.5 L1383.9 1057.1 L1385.5 1056.6 L1387.1 1055.6 L1388.7 1055.8 L1390.3 1057.0 L1391.9 1055.2 L1393.5 1056.6 L1395.1 1053.3 L1396.7 1055.6 L1398.3 1056.1 L1399.9 1055.5 L1401.5 1055.0 L1403.1 1056.0 L1404.7 1054.0 L1406.3 1053.8 L1407.9 1055.0 L1409.5 1056.2 L1411.1 1055.5 L1412.7 1054.9 L1414.3 1055.5 L1415.9 1055.7 L1417.5 1053.9 L1419.1 1052.2 L1420.7 1054.1 L1422.3 1053.5 L1423.9 1054.4 L1425.5 1053.6 L1427.1 1053.9 L1428.7 1055.2 L1430.3 1054.7 L1431.9 1054.5 L1433.5 1056.2 L1435.1 1053.8 L1436.7 1053.8 L1438.3 1055.4 L1439.9 1052.8 L1441.5 1052.2 L1443.1 1055.2 L1444.7 1054.2 L1446.3 1054.4 L1447.9 1054.4 L1449.5 1054.7 L1451.1 1053.3 L1452.7 1053.7 L1454.3 1052.5 L1455.9 1053.8 L1457.5 1053.9 L1459.1 1053.0 L1460.7 1054.0 L1462.3 1056.3 L1463.9 1051.7 L1465.5 1053.3 L1467.1 1052.5 L1468.7 1050.8 L1470.3 1045.7 L1471.9 1043.3 L1473.5 1037.7 L1475.1 1033.0 L1476.7 1032.6 L1478.3 1036.8 L1479.9 1042.7 L1481.5 1047.4 L1483.1 1052.3 L1484.7 1051.6 L1486.3 1053.8 L1487.9 1053.4 L1489.5 1055.0 L1491.1 1054.6 L1492.7 1054.1 L1494.3 1053.5 L1495.9 1054.3 L1497.5 1055.5 L1499.1 1057.0 L1500.7 1056.3 L1502.3 1054.3 L1503.9 1055.1 L1505.5 1055.6 L1507.1 1055.4 L1508.7 1055.5 L1510.3 1056.2 L1511.9 1055.6 L1513.5 1054.7 L1515.1 1053.5 L1516.7 1055.2 L1518.3 1053.9 L1519.9 1055.6 L1521.5 1056.2 L1523.1 1054.6 L1524.7 1055.9 L1526.3 1055.7 L1527.9 1058.0 L1529.5 1056.5 L1531.1 1054.1 L1532.7 1056.5 L1534.3 1056.5 L1535.9 1055.9 L1537.5 1055.8 L1539.1 1056.8 L1540.7 1056.9 L1542.3 1056.7 L1543.9 1055.2 L1545.5 1055.9 L1547.1 1054.6 L1548.7 1054.7 L1550.3 1055.7 L1551.9 1055.2 L1553.5 1056.0 L1555.1 1059.1 L1556.7 1057.1 L1558.3 1055.7 L1559.9 1054.5 L1561.5 1055.9 L1563.1 1055.4 L1564.7 1054.7 L1566.3 1057.8 L1567.9 1056.5 L1569.5 1057.5 L1571.1 1060.3 L1572.7 1057.3 L1574.3 1057.2 L1575.9 1057.5 L1577.5 1056.8 L1579.1 1056.2 L1580.7 1056.9 L1582.3 1058.3 L1583.9 1056.8 L1585.5 1055.6 L1587.1 1055.7 L1588.7 1055.9 L1590.3 1056.9 L1591.9 1057.3 L1593.5 1057.2 L1595.1 1057.8 L1596.7 1056.3 L1598.3 1057.2 L1599.9 1056.6 L1601.5 1057.0 L1603.1 1054.3 L1604.7 1057.5 L1606.3 1054.5 L1607.9 1054.9 L1609.5 1056.9 L1611.1 1055.6 L1612.7 1057.8 L1614.3 1056.1 L1615.9 1054.9 L1617.5 1056.1 L1619.1 1055.5 L1620.7 1057.5 L1622.3 1057.5 L1623.9 1056.6 L1625.5 1055.3 L1627.1 1055.8 L1628.7 1056.8 L1630.3 1054.8 L1631.9 1054.8 L1633.5 1056.4 L1635.1 1056.2 L1636.7 1055.1 L1638.3 1055.0 L1639.9 1053.2 L1641.5 1056.5 L1643.1 1055.2 L1644.7 1053.9 L1646.3 1054.2 L1647.9 1054.6 L1649.5 1057.3 L1651.1 1056.3 L1652.7 1054.3 L1654.3 1057.6 L1655.9 1057.1 L1657.5 1054.7 L1659.1 1053.0 L1660.7 1056.8 L1662.3 1055.2 L1663.9 1055.7 L1665.5 1055.3 L1667.1 1057.0 L1668.7 1057.0 L1670.3 1056.1 L1671.9 1054.9 L1673.5 1055.1 L1675.1 1055.3 L1676.7 1053.0 L1678.3 1055.9 L1679.9 1054.3 L1681.5 1054.9 L1683.1 1054.8 L1684.7 1055.7 L1686.3 1055.9 L1687.9 1057.0 L1689.5 1054.3 L1691.1 1053.6 L1692.7 1054.5 L1694.3 1053.5 L1695.9 1054.8 L1697.5 1052.8 L1699.1 1053.6 L1700.7 1054.1 L1702.3 1054.0 L1703.9 1052.9 L1705.5 1054.0 L1707.1 1053.7 L1708.7 1050.5 L1710.3 1052.5 L1711.9 1052.3 L1713.5 1051.7 L1715.1 1051.2 L1716.7 1051.8 L1718.3 1052.0 L1719.9 1051.8 L1721.5 1052.8 L1723.1 1052.3 L1724.7 1050.5 L1726.3 1050.3 L1727.9 1051.8 L1729.5 1050.2 L1731.1 1051.0 L1732.7 1051.3 L1734.3 1051.8 L1735.9 1051.3 L1737.5 1052.2 L1739.1 1050.2 L1740.7 1051.4 L1742.3 1050.0 L1743.9 1050.9 L1745.5 1050.8 L1747.1 1049.8 L1748.7 1048.1 L1750.3 1051.7 L1751.9 1051.1 L1753.5 1050.9 L1755.1 1050.0 L1756.7 1050.3 L1758.3 1051.1 L1759.9 1050.6 L1761.5 1051.6 L1763.1 1050.4 L1764.7 1049.3 L1766.3 1050.5 L1767.9 1049.0 L1769.5 1049.6 L1771.1 1047.2 L1772.7 1048.5 L1774.3 1049.1 L1775.9 1047.4 L1777.5 1047.2 L1779.1 1046.3 L1780.7 1043.4 L1782.3 1041.8 L1783.9 1035.9 L1785.5 1032.6 L1787.1 1031.4 L1788.7 1031.2 L1790.3 1035.2 L1791.9 1041.3 L1793.5 1043.8 L1795.1 1048.0 L1796.7 1048.1 L1798.3 1049.0 L1799.9 1050.8 L1801.5 1050.4 L1803.1 1052.0 L1804.7 1049.5 L1806.3 1051.3 L1807.9 1051.8 L1809.5 1051.9 L1811.1 1052.7 L1812.7 1052.7 L1814.3 1051.9 L1815.9 1051.4 L1817.5 1053.0 L1819.1 1052.1 L1820.7 1053.0 L1822.3 1053.5 L1823.9 1052.4 L1825.5 1051.4 L1827.1 1052.1 L1828.7 1053.3 L1830.3 1052.4 L1831.9 1053.9 L1833.5 1052.9 L1835.1 1053.0 L1836.7 1052.3 L1838.3 1052.9 L1839.9 1054.1 L1841.5 1052.7 L1843.1 1052.7 L1844.7 1052.2 L1846.3 1053.8 L1847.9 1051.5 L1849.5 1052.4 L1851.1 1054.0 L1852.7 1054.5 L1854.3 1052.9 L1855.9 1054.2 L1857.5 1051.2 L1859.1 1054.1 L1860.7 1053.7 L1862.3 1052.3 L1863.9 1051.8 L1865.5 1053.2 L1867.1 1054.0 L1868.7 1054.1 L1870.3 1053.9 L1871.9 1054.5 L1873.5 1054.4 L1875.1 1052.2 L1876.7 1053.1 L1878.3 1052.7 L1879.9 1053.8 L1881.5 1051.4 L1883.1 1051.8 L1884.7 1049.6 L1886.3 1050.6 L1887.9 1047.7 L1889.5 1048.4 L1891.1 1049.6 L1892.7 1051.5 L1894.3 1055.2 L1895.9 1053.3 L1897.5 1053.7 L1899.1 1054.9 L1900.7 1056.1 L1902.3 1054.6 L1903.9 1056.5 L1905.5 1056.5 L1907.1 1055.5 L1908.7 1055.4 L1910.3 1054.7 L1911.9 1055.1 L1913.5 1054.4 L1915.1 1056.3 L1916.7 1056.6 L1918.3 1054.5 L1919.9 1054.6 L1921.5 1052.6 L1923.1 1054.0 L1924.7 1054.8 L1926.3 1054.8 L1927.9 1054.7 L1929.5 1055.5 L1931.1 1054.9 L1932.7 1054.5 L1934.3 1056.7 L1935.9 1053.3 L1937.5 1054.2 L1939.1 1054.7 L1940.7 1054.8 L1942.3 1054.8 L1943.9 1055.3 L1945.5 1054.8 L1947.1 1055.3 L1948.7 1055.9 L1950.3 1055.1 L1951.9 1055.1 L1953.5 1053.9 L1955.1 1053.6 L1956.7 1054.3 L1958.3 1055.5 L1959.9 1054.9 L1961.5 1055.6 L1963.1 1055.5 L1964.7 1055.6 L1966.3 1053.7 L1967.9 1055.7 L1969.5 1055.2 L1971.1 1056.5 L1972.7 1055.0 L1974.3 1054.7 L1975.9 1054.3 L1977.5 1054.6 L1979.1 1052.8 L1980.7 1054.3 L1982.3 1054.6"/>
<path class="crv" stroke="#ff0000" stroke-width="7.5" d="M177.5 474.6 L179.1 455.4 L180.7 468.1 L182.3 464.2 L183.9 465.0 L185.5 466.5 L187.1 459.5 L188.7 467.6 L190.3 465.8 L191.9 484.4 L193.5 472.6 L195.1 471.4 L196.7 472.8 L198.3 472.2 L199.9 471.6 L201.5 475.2 L203.1 479.5 L204.7 477.2 L206.3 482.8 L207.9 478.5 L209.5 480.0 L211.1 486.9 L212.7 483.3 L214.3 479.5 L215.9 481.5 L217.5 485.1 L219.1 491.5 L220.7 483.2 L222.3 484.1 L223.9 490.1 L225.5 483.3 L227.1 486.7 L228.7 492.5 L230.3 492.2 L231.9 491.0 L233.5 494.1 L235.1 480.6 L236.7 497.0 L238.3 489.7 L239.9 487.6 L241.5 496.3 L243.1 498.7 L244.7 494.7 L246.3 492.8 L247.9 497.8 L249.5 498.0 L251.1 504.2 L252.7 501.9 L254.3 500.0 L255.9 504.0 L257.5 499.0 L259.1 496.4 L260.7 502.7 L262.3 503.0 L263.9 500.1 L265.5 498.2 L267.1 502.6 L268.7 492.0 L270.3 505.2 L271.9 504.9 L273.5 496.9 L275.1 504.2 L276.7 500.8 L278.3 508.4 L279.9 498.2 L281.5 503.8 L283.1 511.4 L284.7 514.6 L286.3 502.7 L287.9 510.6 L289.5 515.0 L291.1 512.0 L292.7 521.2 L294.3 510.6 L295.9 517.0 L297.5 511.7 L299.1 521.5 L300.7 516.0 L302.3 514.7 L303.9 509.5 L305.5 522.9 L307.1 519.3 L308.7 519.3 L310.3 520.9 L311.9 517.9 L313.5 514.2 L315.1 513.8 L316.7 514.0 L318.3 522.7 L319.9 511.9 L321.5 515.4 L323.1 516.7 L324.7 518.9 L326.3 520.5 L327.9 513.5 L329.5 511.8 L331.1 518.5 L332.7 523.3 L334.3 521.6 L335.9 519.5 L337.5 517.5 L339.1 519.8 L340.7 517.8 L342.3 521.9 L343.9 515.8 L345.5 519.5 L347.1 518.8 L348.7 521.6 L350.3 520.8 L351.9 530.2 L353.5 526.8 L355.1 527.4 L356.7 514.5 L358.3 521.6 L359.9 521.1 L361.5 525.9 L363.1 515.6 L364.7 529.0 L366.3 528.7 L367.9 519.7 L369.5 520.8 L371.1 521.2 L372.7 524.2 L374.3 526.3 L375.9 531.4 L377.5 522.8 L379.1 526.2 L380.7 523.7 L382.3 529.6 L383.9 525.6 L385.5 527.8 L387.1 518.4 L388.7 521.6 L390.3 519.3 L391.9 528.1 L393.5 524.9 L395.1 521.4 L396.7 521.0 L398.3 524.6 L399.9 520.5 L401.5 519.9 L403.1 525.6 L404.7 533.3 L406.3 523.6 L407.9 522.8 L409.5 520.6 L411.1 520.0 L412.7 526.9 L414.3 528.2 L415.9 525.1 L417.5 526.4 L419.1 525.6 L420.7 525.7 L422.3 519.4 L423.9 523.0 L425.5 524.7 L427.1 520.9 L428.7 521.6 L430.3 519.8 L431.9 521.2 L433.5 525.2 L435.1 520.4 L436.7 521.2 L438.3 524.6 L439.9 524.0 L441.5 527.8 L443.1 514.0 L444.7 524.8 L446.3 520.0 L447.9 522.3 L449.5 524.8 L451.1 525.6 L452.7 525.4 L454.3 522.0 L455.9 527.0 L457.5 519.8 L459.1 520.9 L460.7 525.4 L462.3 521.7 L463.9 532.6 L465.5 529.6 L467.1 535.0 L468.7 528.2 L470.3 527.7 L471.9 530.5 L473.5 533.3 L475.1 529.4 L476.7 533.7 L478.3 533.0 L479.9 539.6 L481.5 532.2 L483.1 539.0 L484.7 533.7 L486.3 533.2 L487.9 535.1 L489.5 534.8 L491.1 540.8 L492.7 545.2 L494.3 543.4 L495.9 546.3 L497.5 551.2 L499.1 547.8 L500.7 549.1 L502.3 549.0 L503.9 545.9 L505.5 556.0 L507.1 548.9 L508.7 559.1 L510.3 558.4 L511.9 564.1 L513.5 561.6 L515.1 560.5 L516.7 566.2 L518.3 564.6 L519.9 567.5 L521.5 569.9 L523.1 570.8 L524.7 572.2 L526.3 571.5 L527.9 575.6 L529.5 571.0 L531.1 579.9 L532.7 578.3 L534.3 588.4 L535.9 590.9 L537.5 581.8 L539.1 591.1 L540.7 592.4 L542.3 591.4 L543.9 599.1 L545.5 598.1 L547.1 596.0 L548.7 603.5 L550.3 606.2 L551.9 609.5 L553.5 607.2 L555.1 615.7 L556.7 618.4 L558.3 614.1 L559.9 617.9 L561.5 622.8 L563.1 624.0 L564.7 634.8 L566.3 632.6 L567.9 630.0 L569.5 631.2 L571.1 634.1 L572.7 642.4 L574.3 634.7 L575.9 636.2 L577.5 639.0 L579.1 641.2 L580.7 652.8 L582.3 647.6 L583.9 655.7 L585.5 657.7 L587.1 661.6 L588.7 657.4 L590.3 668.5 L591.9 664.0 L593.5 666.1 L595.1 664.4 L596.7 666.5 L598.3 671.9 L599.9 674.4 L601.5 674.8 L603.1 677.4 L604.7 677.7 L606.3 677.5 L607.9 682.0 L609.5 683.2 L611.1 683.0 L612.7 687.2 L614.3 690.1 L615.9 688.0 L617.5 687.3 L619.1 691.7 L620.7 696.2 L622.3 690.5 L623.9 690.7 L625.5 686.1 L627.1 675.6 L628.7 633.1 L630.3 592.1 L631.9 566.0 L633.5 584.5 L635.1 640.7 L636.7 675.3 L638.3 690.4 L639.9 699.4 L641.5 697.5 L643.1 703.2 L644.7 712.6 L646.3 707.0 L647.9 717.1 L649.5 713.7 L651.1 719.0 L652.7 718.4 L654.3 714.0 L655.9 720.0 L657.5 722.7 L659.1 719.4 L660.7 719.4 L662.3 724.6 L663.9 722.1 L665.5 719.5 L667.1 722.6 L668.7 727.0 L670.3 723.5 L671.9 727.5 L673.5 729.3 L675.1 725.6 L676.7 722.9 L678.3 723.0 L679.9 727.1 L681.5 730.3 L683.1 729.6 L684.7 731.1 L686.3 729.3 L687.9 732.0 L689.5 730.3 L691.1 730.3 L692.7 726.1 L694.3 721.8 L695.9 719.8 L697.5 714.8 L699.1 716.5 L700.7 725.7 L702.3 728.9 L703.9 740.2 L705.5 737.1 L707.1 734.1 L708.7 738.0 L710.3 736.8 L711.9 734.0 L713.5 737.9 L715.1 732.4 L716.7 724.7 L718.3 729.2 L719.9 716.0 L721.5 707.2 L723.1 689.4 L724.7 685.9 L726.3 700.5 L727.9 701.3 L729.5 702.5 L731.1 696.2 L732.7 686.0 L734.3 691.0 L735.9 705.5 L737.5 720.6 L739.1 724.7 L740.7 730.2 L742.3 725.3 L743.9 714.4 L745.5 683.9 L747.1 663.8 L748.7 675.4 L750.3 698.4 L751.9 721.6 L753.5 732.5 L755.1 739.1 L756.7 737.0 L758.3 739.4 L759.9 734.9 L761.5 739.3 L763.1 745.3 L764.7 741.1 L766.3 741.7 L767.9 741.1 L769.5 744.9 L771.1 743.8 L772.7 740.6 L774.3 744.4 L775.9 743.3 L777.5 744.2 L779.1 740.9 L780.7 745.9 L782.3 742.8 L783.9 741.5 L785.5 740.4 L787.1 740.5 L788.7 742.3 L790.3 739.3 L791.9 741.5 L793.5 739.7 L795.1 740.6 L796.7 738.6 L798.3 735.7 L799.9 730.4 L801.5 733.1 L803.1 729.3 L804.7 716.9 L806.3 697.5 L807.9 668.8 L809.5 649.8 L811.1 653.3 L812.7 681.7 L814.3 703.8 L815.9 718.6 L817.5 724.6 L819.1 730.0 L820.7 734.2 L822.3 732.4 L823.9 729.9 L825.5 734.0 L827.1 733.5 L828.7 731.9 L830.3 730.5 L831.9 730.0 L833.5 727.2 L835.1 725.6 L836.7 719.7 L838.3 720.4 L839.9 711.4 L841.5 702.6 L843.1 668.1 L844.7 621.5 L846.3 532.0 L847.9 402.2 L849.5 267.5 L851.1 185.2 L852.7 214.8 L854.3 331.8 L855.9 470.1 L857.5 582.6 L859.1 653.1 L860.7 688.2 L862.3 706.1 L863.9 715.0 L865.5 721.3 L867.1 720.2 L868.7 721.9 L870.3 726.4 L871.9 725.0 L873.5 726.4 L875.1 726.7 L876.7 724.4 L878.3 716.0 L879.9 714.1 L881.5 706.7 L883.1 712.2 L884.7 707.0 L886.3 701.5 L887.9 697.3 L889.5 694.1 L891.1 701.6 L892.7 713.5 L894.3 723.7 L895.9 727.6 L897.5 730.3 L899.1 733.7 L900.7 731.1 L902.3 732.0 L903.9 732.2 L905.5 735.7 L907.1 735.6 L908.7 736.5 L910.3 734.3 L911.9 734.3 L913.5 736.6 L915.1 734.6 L916.7 737.3 L918.3 737.4 L919.9 735.1 L921.5 736.6 L923.1 737.2 L924.7 741.4 L926.3 743.7 L927.9 739.4 L929.5 740.2 L931.1 736.6 L932.7 741.8 L934.3 741.9 L935.9 740.5 L937.5 743.2 L939.1 738.0 L940.7 739.6 L942.3 739.4 L943.9 736.1 L945.5 739.1 L947.1 738.6 L948.7 733.4 L950.3 732.6 L951.9 735.6 L953.5 733.7 L955.1 731.0 L956.7 732.0 L958.3 733.3 L959.9 734.6 L961.5 737.7 L963.1 738.2 L964.7 742.0 L966.3 742.6 L967.9 742.6 L969.5 744.5 L971.1 745.9 L972.7 743.8 L974.3 739.4 L975.9 741.9 L977.5 739.3 L979.1 740.7 L980.7 736.6 L982.3 735.7 L983.9 733.4 L985.5 733.7 L987.1 729.1 L988.7 724.3 L990.3 716.6 L991.9 697.6 L993.5 667.0 L995.1 620.2 L996.7 567.6 L998.3 532.7 L999.9 531.9 L1001.5 574.4 L1003.1 627.7 L1004.7 674.6 L1006.3 701.5 L1007.9 719.1 L1009.5 728.6 L1011.1 733.7 L1012.7 735.4 L1014.3 736.8 L1015.9 738.0 L1017.5 741.9 L1019.1 744.9 L1020.7 744.3 L1022.3 745.4 L1023.9 747.1 L1025.5 746.3 L1027.1 749.0 L1028.7 750.6 L1030.3 753.1 L1031.9 754.1 L1033.5 753.5 L1035.1 757.7 L1036.7 757.9 L1038.3 752.6 L1039.9 749.2 L1041.5 742.3 L1043.1 737.2 L1044.7 733.1 L1046.3 743.6 L1047.9 747.2 L1049.5 755.1 L1051.1 755.9 L1052.7 756.5 L1054.3 757.4 L1055.9 759.3 L1057.5 756.6 L1059.1 757.5 L1060.7 757.4 L1062.3 755.5 L1063.9 760.3 L1065.5 759.3 L1067.1 758.8 L1068.7 761.1 L1070.3 758.3 L1071.9 760.2 L1073.5 763.6 L1075.1 763.0 L1076.7 758.5 L1078.3 757.3 L1079.9 761.4 L1081.5 765.0 L1083.1 763.0 L1084.7 763.7 L1086.3 764.9 L1087.9 762.4 L1089.5 763.8 L1091.1 764.4 L1092.7 763.6 L1094.3 763.2 L1095.9 761.4 L1097.5 762.8 L1099.1 761.1 L1100.7 763.8 L1102.3 766.3 L1103.9 761.9 L1105.5 760.4 L1107.1 763.7 L1108.7 765.6 L1110.3 767.3 L1111.9 767.7 L1113.5 765.4 L1115.1 765.8 L1116.7 769.4 L1118.3 766.3 L1119.9 770.0 L1121.5 768.5 L1123.1 770.5 L1124.7 770.9 L1126.3 771.4 L1127.9 772.0 L1129.5 769.8 L1131.1 771.8 L1132.7 771.3 L1134.3 771.7 L1135.9 773.0 L1137.5 770.7 L1139.1 769.9 L1140.7 769.8 L1142.3 770.3 L1143.9 771.8 L1145.5 769.3 L1147.1 772.1 L1148.7 770.7 L1150.3 769.8 L1151.9 768.1 L1153.5 770.2 L1155.1 770.1 L1156.7 764.6 L1158.3 765.9 L1159.9 763.1 L1161.5 759.5 L1163.1 761.4 L1164.7 767.6 L1166.3 768.9 L1167.9 767.6 L1169.5 769.8 L1171.1 769.6 L1172.7 769.4 L1174.3 765.8 L1175.9 770.0 L1177.5 767.6 L1179.1 768.4 L1180.7 767.6 L1182.3 768.7 L1183.9 766.7 L1185.5 765.7 L1187.1 767.5 L1188.7 770.9 L1190.3 770.5 L1191.9 775.1 L1193.5 775.6 L1195.1 776.4 L1196.7 779.1 L1198.3 775.3 L1199.9 777.7 L1201.5 775.1 L1203.1 776.1 L1204.7 773.2 L1206.3 773.4 L1207.9 775.9 L1209.5 774.3 L1211.1 773.8 L1212.7 772.8 L1214.3 773.9 L1215.9 770.9 L1217.5 771.0 L1219.1 772.1 L1220.7 770.8 L1222.3 770.7 L1223.9 771.7 L1225.5 772.2 L1227.1 772.7 L1228.7 776.0 L1230.3 775.6 L1231.9 776.5 L1233.5 775.2 L1235.1 775.0 L1236.7 774.1 L1238.3 776.1 L1239.9 774.0 L1241.5 776.6 L1243.1 779.0 L1244.7 780.7 L1246.3 780.2 L1247.9 778.1 L1249.5 780.6 L1251.1 779.2 L1252.7 781.2 L1254.3 779.5 L1255.9 780.5 L1257.5 782.6 L1259.1 779.9 L1260.7 781.5 L1262.3 778.1 L1263.9 777.0 L1265.5 779.1 L1267.1 779.4 L1268.7 775.9 L1270.3 776.7 L1271.9 774.8 L1273.5 777.1 L1275.1 779.2 L1276.7 778.3 L1278.3 778.1 L1279.9 777.4 L1281.5 780.2 L1283.1 781.2 L1284.7 781.1 L1286.3 780.9 L1287.9 778.9 L1289.5 783.4 L1291.1 781.0 L1292.7 781.0 L1294.3 782.3 L1295.9 778.4 L1297.5 781.5 L1299.1 781.6 L1300.7 782.5 L1302.3 784.1 L1303.9 783.1 L1305.5 780.2 L1307.1 782.7 L1308.7 783.8 L1310.3 784.1 L1311.9 782.1 L1313.5 781.1 L1315.1 783.7 L1316.7 782.9 L1318.3 781.7 L1319.9 778.7 L1321.5 782.9 L1323.1 776.4 L1324.7 780.3 L1326.3 784.1 L1327.9 781.4 L1329.5 782.3 L1331.1 780.8 L1332.7 784.9 L1334.3 781.7 L1335.9 784.3 L1337.5 784.7 L1339.1 783.5 L1340.7 786.6 L1342.3 783.7 L1343.9 784.3 L1345.5 784.7 L1347.1 783.8 L1348.7 784.6 L1350.3 784.8 L1351.9 782.7 L1353.5 781.9 L1355.1 781.5 L1356.7 781.2 L1358.3 782.3 L1359.9 780.3 L1361.5 780.6 L1363.1 779.3 L1364.7 777.7 L1366.3 779.8 L1367.9 777.8 L1369.5 779.9 L1371.1 782.5 L1372.7 779.6 L1374.3 781.7 L1375.9 780.3 L1377.5 782.4 L1379.1 781.8 L1380.7 784.1 L1382.3 784.4 L1383.9 784.8 L1385.5 786.3 L1387.1 784.0 L1388.7 783.9 L1390.3 782.4 L1391.9 781.5 L1393.5 781.1 L1395.1 780.3 L1396.7 783.4 L1398.3 786.0 L1399.9 784.9 L1401.5 784.0 L1403.1 787.5 L1404.7 785.1 L1406.3 785.4 L1407.9 785.0 L1409.5 785.9 L1411.1 787.3 L1412.7 790.7 L1414.3 787.6 L1415.9 786.4 L1417.5 786.9 L1419.1 787.4 L1420.7 785.3 L1422.3 787.7 L1423.9 788.3 L1425.5 787.6 L1427.1 787.8 L1428.7 785.1 L1430.3 784.2 L1431.9 788.0 L1433.5 787.3 L1435.1 783.4 L1436.7 785.4 L1438.3 784.8 L1439.9 785.2 L1441.5 784.5 L1443.1 783.4 L1444.7 784.1 L1446.3 783.9 L1447.9 783.3 L1449.5 780.6 L1451.1 778.6 L1452.7 781.3 L1454.3 780.0 L1455.9 782.4 L1457.5 782.7 L1459.1 781.9 L1460.7 780.7 L1462.3 780.8 L1463.9 781.6 L1465.5 777.8 L1467.1 777.5 L1468.7 772.3 L1470.3 762.7 L1471.9 749.8 L1473.5 727.8 L1475.1 710.5 L1476.7 697.3 L1478.3 703.1 L1479.9 720.6 L1481.5 743.1 L1483.1 758.1 L1484.7 770.8 L1486.3 775.9 L1487.9 782.3 L1489.5 785.2 L1491.1 784.1 L1492.7 786.7 L1494.3 785.7 L1495.9 788.2 L1497.5 785.7 L1499.1 783.7 L1500.7 787.8 L1502.3 785.8 L1503.9 784.7 L1505.5 785.4 L1507.1 784.2 L1508.7 786.3 L1510.3 785.3 L1511.9 788.8 L1513.5 787.9 L1515.1 784.9 L1516.7 785.1 L1518.3 786.4 L1519.9 784.5 L1521.5 786.8 L1523.1 786.8 L1524.7 785.7 L1526.3 786.0 L1527.9 787.3 L1529.5 788.4 L1531.1 788.5 L1532.7 786.5 L1534.3 787.6 L1535.9 785.5 L1537.5 787.1 L1539.1 785.3 L1540.7 787.5 L1542.3 784.9 L1543.9 785.2 L1545.5 786.4 L1547.1 787.1 L1548.7 784.5 L1550.3 785.6 L1551.9 786.4 L1553.5 786.4 L1555.1 784.9 L1556.7 786.0 L1558.3 785.4 L1559.9 787.4 L1561.5 786.2 L1563.1 783.6 L1564.7 782.3 L1566.3 785.1 L1567.9 786.4 L1569.5 785.0 L1571.1 785.8 L1572.7 783.9 L1574.3 782.8 L1575.9 785.4 L1577.5 784.6 L1579.1 785.3 L1580.7 782.6 L1582.3 784.6 L1583.9 783.6 L1585.5 785.3 L1587.1 783.5 L1588.7 783.4 L1590.3 783.4 L1591.9 785.7 L1593.5 784.0 L1595.1 782.9 L1596.7 782.4 L1598.3 782.3 L1599.9 785.5 L1601.5 781.3 L1603.1 782.6 L1604.7 784.5 L1606.3 785.3 L1607.9 783.8 L1609.5 785.1 L1611.1 785.1 L1612.7 785.5 L1614.3 784.3 L1615.9 786.3 L1617.5 784.5 L1619.1 786.2 L1620.7 782.9 L1622.3 785.5 L1623.9 782.8 L1625.5 782.6 L1627.1 785.2 L1628.7 783.7 L1630.3 785.5 L1631.9 783.7 L1633.5 787.2 L1635.1 785.2 L1636.7 783.8 L1638.3 785.3 L1639.9 786.0 L1641.5 783.8 L1643.1 785.3 L1644.7 787.0 L1646.3 785.4 L1647.9 784.1 L1649.5 783.3 L1651.1 784.6 L1652.7 781.9 L1654.3 779.8 L1655.9 782.6 L1657.5 781.9 L1659.1 785.3 L1660.7 783.1 L1662.3 781.5 L1663.9 781.1 L1665.5 783.0 L1667.1 781.2 L1668.7 781.4 L1670.3 781.9 L1671.9 782.0 L1673.5 781.8 L1675.1 781.7 L1676.7 783.1 L1678.3 783.5 L1679.9 779.2 L1681.5 784.3 L1683.1 781.2 L1684.7 782.5 L1686.3 779.9 L1687.9 781.3 L1689.5 781.1 L1691.1 781.0 L1692.7 781.8 L1694.3 781.5 L1695.9 779.4 L1697.5 780.4 L1699.1 781.4 L1700.7 781.4 L1702.3 780.1 L1703.9 780.3 L1705.5 780.6 L1707.1 779.7 L1708.7 779.7 L1710.3 783.5 L1711.9 781.3 L1713.5 782.1 L1715.1 781.1 L1716.7 783.7 L1718.3 784.2 L1719.9 781.7 L1721.5 782.4 L1723.1 780.7 L1724.7 783.6 L1726.3 782.5 L1727.9 780.3 L1729.5 782.8 L1731.1 781.7 L1732.7 781.8 L1734.3 781.7 L1735.9 780.5 L1737.5 780.5 L1739.1 781.8 L1740.7 780.9 L1742.3 779.7 L1743.9 783.2 L1745.5 780.3 L1747.1 779.8 L1748.7 779.6 L1750.3 781.2 L1751.9 781.4 L1753.5 780.5 L1755.1 781.1 L1756.7 778.2 L1758.3 779.4 L1759.9 779.2 L1761.5 779.6 L1763.1 780.0 L1764.7 776.8 L1766.3 782.7 L1767.9 777.7 L1769.5 778.8 L1771.1 778.9 L1772.7 778.4 L1774.3 777.1 L1775.9 772.4 L1777.5 773.0 L1779.1 772.4 L1780.7 765.4 L1782.3 757.3 L1783.9 744.4 L1785.5 735.1 L1787.1 721.3 L1788.7 712.9 L1790.3 717.1 L1791.9 728.5 L1793.5 741.2 L1795.1 754.7 L1796.7 764.5 L1798.3 770.8 L1799.9 775.1 L1801.5 775.5 L1803.1 775.9 L1804.7 777.5 L1806.3 776.8 L1807.9 776.5 L1809.5 779.6 L1811.1 778.2 L1812.7 779.1 L1814.3 780.1 L1815.9 778.4 L1817.5 780.8 L1819.1 780.9 L1820.7 780.6 L1822.3 781.5 L1823.9 780.3 L1825.5 778.9 L1827.1 781.3 L1828.7 780.7 L1830.3 782.9 L1831.9 782.3 L1833.5 781.4 L1835.1 782.1 L1836.7 783.7 L1838.3 783.4 L1839.9 782.6 L1841.5 782.8 L1843.1 782.1 L1844.7 782.3 L1846.3 783.3 L1847.9 782.6 L1849.5 783.1 L1851.1 781.4 L1852.7 780.7 L1854.3 780.6 L1855.9 782.0 L1857.5 784.0 L1859.1 783.7 L1860.7 781.1 L1862.3 780.5 L1863.9 783.2 L1865.5 782.9 L1867.1 780.8 L1868.7 783.7 L1870.3 782.7 L1871.9 784.1 L1873.5 783.0 L1875.1 783.5 L1876.7 782.6 L1878.3 780.5 L1879.9 780.1 L1881.5 777.8 L1883.1 777.0 L1884.7 771.8 L1886.3 767.7 L1887.9 767.2 L1889.5 766.0 L1891.1 766.8 L1892.7 768.7 L1894.3 769.0 L1895.9 773.3 L1897.5 776.4 L1899.1 779.2 L1900.7 778.4 L1902.3 782.1 L1903.9 783.2 L1905.5 782.4 L1907.1 784.0 L1908.7 785.6 L1910.3 784.6 L1911.9 786.0 L1913.5 786.3 L1915.1 786.0 L1916.7 786.4 L1918.3 786.0 L1919.9 788.2 L1921.5 786.7 L1923.1 786.8 L1924.7 788.8 L1926.3 787.5 L1927.9 789.1 L1929.5 790.1 L1931.1 789.2 L1932.7 789.3 L1934.3 790.2 L1935.9 790.0 L1937.5 787.4 L1939.1 787.7 L1940.7 790.6 L1942.3 789.6 L1943.9 786.8 L1945.5 787.7 L1947.1 789.2 L1948.7 788.2 L1950.3 789.9 L1951.9 789.6 L1953.5 790.2 L1955.1 788.4 L1956.7 790.5 L1958.3 792.0 L1959.9 788.9 L1961.5 791.2 L1963.1 790.8 L1964.7 790.4 L1966.3 789.5 L1967.9 788.2 L1969.5 788.5 L1971.1 790.2 L1972.7 790.4 L1974.3 790.6 L1975.9 790.2 L1977.5 790.1 L1979.1 788.6 L1980.7 787.7 L1982.3 789.3"/>
<rect x="176.5" y="13" width="1808" height="1328" fill="none" stroke="#000" stroke-width="5"/>
<g stroke="#000" stroke-width="5"><line x1="176.5" y1="1341" x2="176.5" y2="1368"/><line x1="289.5" y1="1341" x2="289.5" y2="1355"/><line x1="402.5" y1="1341" x2="402.5" y2="1368"/><line x1="515.5" y1="1341" x2="515.5" y2="1355"/><line x1="628.5" y1="1341" x2="628.5" y2="1368"/><line x1="741.5" y1="1341" x2="741.5" y2="1355"/><line x1="854.5" y1="1341" x2="854.5" y2="1368"/><line x1="967.5" y1="1341" x2="967.5" y2="1355"/><line x1="1080.5" y1="1341" x2="1080.5" y2="1368"/><line x1="1193.5" y1="1341" x2="1193.5" y2="1355"/><line x1="1306.5" y1="1341" x2="1306.5" y2="1368"/><line x1="1419.5" y1="1341" x2="1419.5" y2="1355"/><line x1="1532.5" y1="1341" x2="1532.5" y2="1368"/><line x1="1645.5" y1="1341" x2="1645.5" y2="1355"/><line x1="1758.5" y1="1341" x2="1758.5" y2="1368"/><line x1="1871.5" y1="1341" x2="1871.5" y2="1355"/><line x1="1984.5" y1="1341" x2="1984.5" y2="1368"/></g>
<g class="tk"><text transform="translate(176.5 1444) scale(0.960 1)" text-anchor="middle">10</text><text transform="translate(402.5 1444) scale(0.960 1)" text-anchor="middle">20</text><text transform="translate(628.5 1444) scale(0.960 1)" text-anchor="middle">30</text><text transform="translate(854.5 1444) scale(0.960 1)" text-anchor="middle">40</text><text transform="translate(1080.5 1444) scale(0.960 1)" text-anchor="middle">50</text><text transform="translate(1306.5 1444) scale(0.960 1)" text-anchor="middle">60</text><text transform="translate(1532.5 1444) scale(0.960 1)" text-anchor="middle">70</text><text transform="translate(1758.5 1444) scale(0.960 1)" text-anchor="middle">80</text><text transform="translate(1984.5 1444) scale(0.960 1)" text-anchor="middle">90</text></g>
<path class="tri" d="M855.20 119.03 L872.20 149.53 L838.20 149.53 Z"/><path class="tri" d="M1002.60 469.23 L1019.60 499.73 L985.60 499.73 Z"/><path class="tri" d="M1480.20 632.83 L1497.20 663.33 L1463.20 663.33 Z"/><path class="tri" d="M1787.20 634.38 L1804.20 664.88 L1770.20 664.88 Z"/><path class="tri" d="M1887.00 695.13 L1904.00 725.63 L1870.00 725.63 Z"/><path class="tri" d="M847.20 803.43 L864.20 833.93 L830.20 833.93 Z"/><path class="tri" d="M1001.00 917.48 L1018.00 947.98 L984.00 947.98 Z"/><path class="tri" d="M1480.20 969.13 L1497.20 999.63 L1463.20 999.63 Z"/><path class="tri" d="M1785.20 968.68 L1802.20 999.18 L1768.20 999.18 Z"/><path class="tri" d="M1882.40 983.43 L1899.40 1013.93 L1865.40 1013.93 Z"/><path class="tri" d="M1104.50 185.18 L1121.50 215.68 L1087.50 215.68 Z"/>
<text class="ast" x="626.00" y="574.34" text-anchor="middle">*</text><text class="ast" x="695.00" y="726.74" text-anchor="middle">*</text><text class="ast" x="709.30" y="686.74" text-anchor="middle">*</text><text class="ast" x="747.90" y="682.44" text-anchor="middle">*</text><text class="ast" x="808.30" y="663.74" text-anchor="middle">*</text><text class="ast" x="889.00" y="704.74" text-anchor="middle">*</text><text class="ast" x="1049.00" y="746.24" text-anchor="middle">*</text><text class="ast" x="1163.50" y="770.44" text-anchor="middle">*</text><text class="ast" x="1105.50" y="154.14" text-anchor="middle">*</text>
<text id="ylab" transform="translate(72.5 1176.38) rotate(-90) scale(0.9969 1)" font-size="85" fill="#000">Normalized Intensity (a.u.)</text>
<text id="lg1" transform="translate(1152.61 130.50) scale(0.9756 1)" font-size="63.5" fill="#000">Na<tspan font-size="44" dy="14.2">2</tspan><tspan dy="-14.2">CO</tspan><tspan font-size="44" dy="14.2">3 </tspan><tspan dy="-14.2">(ICCD:00-019-1130)</tspan></text><text id="lg2" transform="translate(1156.10 220.40) scale(0.9794 1)" font-size="63.5" fill="#000">Pt<tspan font-size="44" dy="-16.5">0 </tspan><tspan dy="16.5">(ICDD: 00-004-0802)</tspan></text><text id="ptna" transform="translate(246.14 419.00) scale(0.9763 1)" font-size="71" fill="#ff0000">Pt-Na/C</text><text id="ptc" transform="translate(247.92 782.80) scale(0.9781 1)" font-size="70" fill="#e066ff">Pt/C</text><text id="carbon" transform="translate(218.80 1019.00) scale(0.9970 1)" font-size="62.5" fill="#000">Carbon</text><text id="p002" transform="translate(501.07 1115.70) scale(0.9834 1)" font-size="65" fill="#000">(002)</text><text id="p100" transform="translate(888.21 1226.70) scale(0.9946 1)" font-size="65" fill="#000">(100)</text><text id="p110" transform="translate(1714.80 1273.50) scale(0.9973 1)" font-size="65" fill="#000">(110)</text><text id="xlab" transform="translate(853.16 1577.00) scale(0.9867 1)" font-size="86" fill="#000">2<tspan font-family="Liberation Serif" font-size="80">θ / </tspan>degrees</text>
</svg>
</body></html>
